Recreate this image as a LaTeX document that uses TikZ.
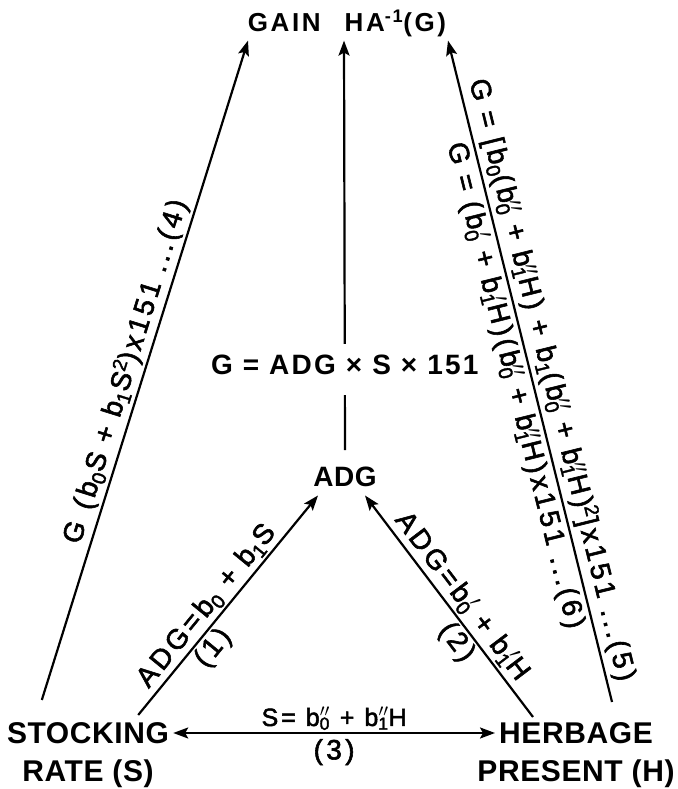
\documentclass[tikz,border=0pt]{standalone}
\usepackage{fontspec}
\setmainfont{Liberation Sans}
\newfontfamily\eqsans[LetterSpace=12,FakeBold=2]{Liberation Sans}
\newfontfamily\termsans[LetterSpace=2]{Liberation Sans}
\usetikzlibrary{arrows.meta}

% regression coefficient b with subscript and optional primes over it
\newcommand{\bco}[2][]{b\textsubscript{#2}\llap{$^{#1}$}}

\begin{document}
\begin{tikzpicture}[x=1pt, y=1pt,
    term/.style={font=\termsans\bfseries\fontsize{30}{38}\selectfont, align=center, inner sep=0pt},
    eqn/.style={font=\eqsans\fontsize{28}{32}\selectfont, inner sep=2pt},
    arr/.style={-{Stealth[length=15pt,width=11pt,inset=3pt]}, line width=2.2pt},
    dbl/.style={{Stealth[length=15pt,width=11pt,inset=3pt]}-{Stealth[length=15pt,width=11pt,inset=3pt]}, line width=2.2pt}
]
    \useasboundingbox (0,0) rectangle (677,789);

    % the four quantities
    \node[term, anchor=north] (stock) at (88,67) {STOCKING\\RATE (S)};
    \node[term, anchor=north] (herb) at (576,67) {HERBAGE\\PRESENT (H)};
    \node[term, anchor=base, font=\termsans\bfseries\fontsize{28}{32}\selectfont] (adg) at (345,302) {ADG};
    \node[term, anchor=base, font=\termsans\bfseries\fontsize{26}{30}\addfontfeature{LetterSpace=10}\selectfont] (gain) at (347,757)
        {GAIN\hspace{24pt}HA\textsuperscript{-1}(G)};

    % lower triangle: (1), (2), (3)
    \draw[arr] ([shift={(-31,7)}]stock.north east) --
        node[eqn, sloped, above, pos=0.45] {ADG=\bco{0} + \bco{1}S}
        node[eqn, sloped, below, pos=0.35] {(1)}
        ([shift={(-27,-8)}]adg.south);
    \draw[arr] ([shift={(-43,5)}]herb.north) --
        node[eqn, sloped, above, pos=0.5] {ADG=\bco[\prime]{0} + \bco[\prime]{1}H}
        node[eqn, sloped, below, pos=0.38] {(2)}
        ([shift={(20,-8)}]adg.south);
    \draw[dbl] ([shift={(4,-11)}]stock.north east) --
        node[eqn, above, font=\eqsans\fontsize{25}{30}\selectfont] {S= \bco[\prime\prime]{0} + \bco[\prime\prime]{1}H}
        node[eqn, below=3pt] {(3)}
        ([shift={(-81,-11)}]herb.north);

    % long arrows up to gain
    \draw[arr] ([shift={(35,22)}]stock.north west) --
        node[eqn, sloped, above, pos=0.49, inner sep=3pt] {G\hspace{0.5em}(\bco{0}S + \bco{1}S\textsuperscript{2})x151 ...(4)}
        ([shift={(-99,-3)}]gain.south);
    \draw[arr] ([shift={(0,17)}]adg.north) --
        node[pos=0.1975, fill=white, inner xsep=4pt, inner ysep=11pt, text depth=9pt,
             font=\termsans\bfseries\fontsize{28}{32}\addfontfeature{LetterSpace=8}\selectfont] (geq) {G = ADG × S × 151}
        ([shift={(-3,-3)}]gain.south);
    \draw[arr] ([shift={(36,20)}]herb.north) --
        node[eqn, sloped, above, pos=0.48, inner sep=4pt]
            {G = [\bco{0}(\bco[\prime\prime]{0} + \bco[\prime\prime]{1}H) + \bco{1}(\bco[\prime\prime]{0} + \bco[\prime\prime]{1}H)\textsuperscript{2}]x151 ...(5)}
        node[eqn, sloped, below, pos=0.485, inner sep=4pt]
            {G = (\bco[\prime]{0} + \bco[\prime]{1}H)(\bco[\prime\prime]{0} + \bco[\prime\prime]{1}H)x151 ...(6)}
        ([shift={(101,-3)}]gain.south);
\end{tikzpicture}
\end{document}
